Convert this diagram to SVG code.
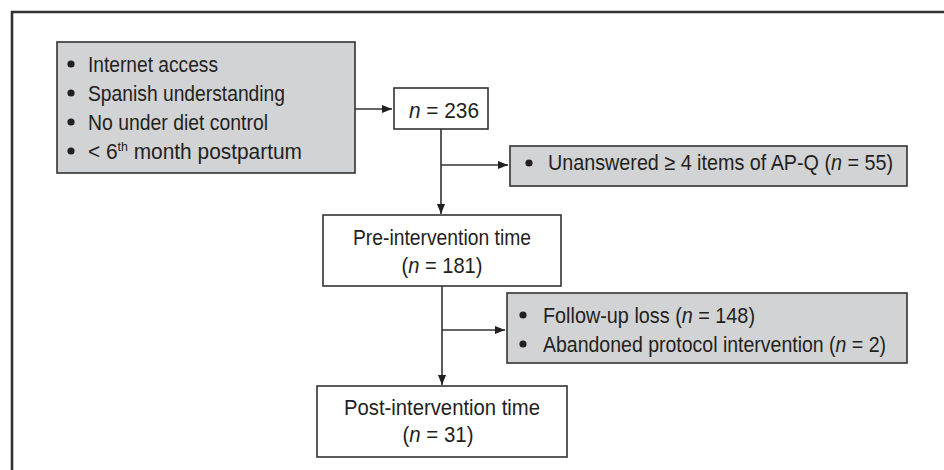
<svg xmlns="http://www.w3.org/2000/svg" width="944" height="470" viewBox="0 0 944 470">
<style>
.t{font-family:"Liberation Sans",Arial,sans-serif;font-size:22px;fill:#231f20}
.c{text-anchor:middle}
.i{font-style:italic}
.box{fill:#ffffff;stroke:#333333;stroke-width:1.6}
.gbox{fill:#d2d3d5;stroke:#333333;stroke-width:1.6}
.ln{fill:none;stroke:#333333;stroke-width:1.6}
.b{fill:#231f20}
</style>
<defs>
<marker id="ah" viewBox="0 0 10 8" refX="10" refY="4" markerWidth="10" markerHeight="8" markerUnits="userSpaceOnUse" orient="auto">
<path d="M0,0 L10,4 L0,8 Z" fill="#231f20"/>
</marker>
</defs>
<rect width="944" height="470" fill="#ffffff"/>
<path d="M12,470 V12 H944" fill="none" stroke="#333333" stroke-width="2.6"/>

<g id="criteria">
<rect class="gbox" x="57" y="42" width="298" height="131"/>
<circle class="b" cx="71" cy="64" r="3.6"/>
<circle class="b" cx="71" cy="93" r="3.6"/>
<circle class="b" cx="71" cy="122" r="3.6"/>
<circle class="b" cx="71" cy="151" r="3.6"/>
<text class="t" x="88" y="72" textLength="130" lengthAdjust="spacingAndGlyphs">Internet access</text>
<text class="t" x="88" y="101" textLength="197" lengthAdjust="spacingAndGlyphs">Spanish understanding</text>
<text class="t" x="88" y="130" textLength="180" lengthAdjust="spacingAndGlyphs">No under diet control</text>
<text class="t" x="88" y="159" textLength="214" lengthAdjust="spacingAndGlyphs">&lt; 6<tspan font-size="13" dy="-8">th</tspan><tspan dy="8"> month postpartum</tspan></text>
</g>

<g id="n236">
<rect class="box" x="394" y="88" width="94" height="41"/>
<text class="t" x="409" y="118" textLength="70" lengthAdjust="spacingAndGlyphs"><tspan class="i">n</tspan> = 236</text>
</g>

<g id="unanswered">
<rect class="gbox" x="510" y="146" width="397" height="40"/>
<circle class="b" cx="529" cy="163" r="3.6"/>
<text class="t" x="548" y="170" textLength="345" lengthAdjust="spacingAndGlyphs">Unanswered ≥ 4 items of AP-Q (<tspan class="i">n</tspan> = 55)</text>
</g>

<g id="pre">
<rect class="box" x="323" y="215" width="238" height="71"/>
<text class="t c" x="442" y="245" textLength="178" lengthAdjust="spacingAndGlyphs">Pre-intervention time</text>
<text class="t c" x="442" y="273" textLength="81" lengthAdjust="spacingAndGlyphs">(<tspan class="i">n</tspan> = 181)</text>
</g>

<g id="loss">
<rect class="gbox" x="507" y="293" width="400" height="70"/>
<circle class="b" cx="523" cy="315" r="3.6"/>
<circle class="b" cx="523" cy="344" r="3.6"/>
<text class="t" x="543" y="323" textLength="212" lengthAdjust="spacingAndGlyphs">Follow-up loss (<tspan class="i">n</tspan> = 148)</text>
<text class="t" x="543" y="352" textLength="343" lengthAdjust="spacingAndGlyphs">Abandoned protocol intervention (<tspan class="i">n</tspan> = 2)</text>
</g>

<g id="post">
<rect class="box" x="317" y="386" width="250" height="71"/>
<text class="t c" x="442" y="415" textLength="196" lengthAdjust="spacingAndGlyphs">Post-intervention time</text>
<text class="t c" x="438" y="442" textLength="71" lengthAdjust="spacingAndGlyphs">(<tspan class="i">n</tspan> = 31)</text>
</g>

<g id="connectors">
<line class="ln" x1="355" y1="109" x2="392" y2="109" marker-end="url(#ah)"/>
<line class="ln" x1="441" y1="129" x2="441" y2="214" marker-end="url(#ah)"/>
<line class="ln" x1="441" y1="165" x2="508" y2="165" marker-end="url(#ah)"/>
<line class="ln" x1="442" y1="286" x2="442" y2="385" marker-end="url(#ah)"/>
<line class="ln" x1="442" y1="330" x2="505" y2="330" marker-end="url(#ah)"/>
</g>
</svg>
